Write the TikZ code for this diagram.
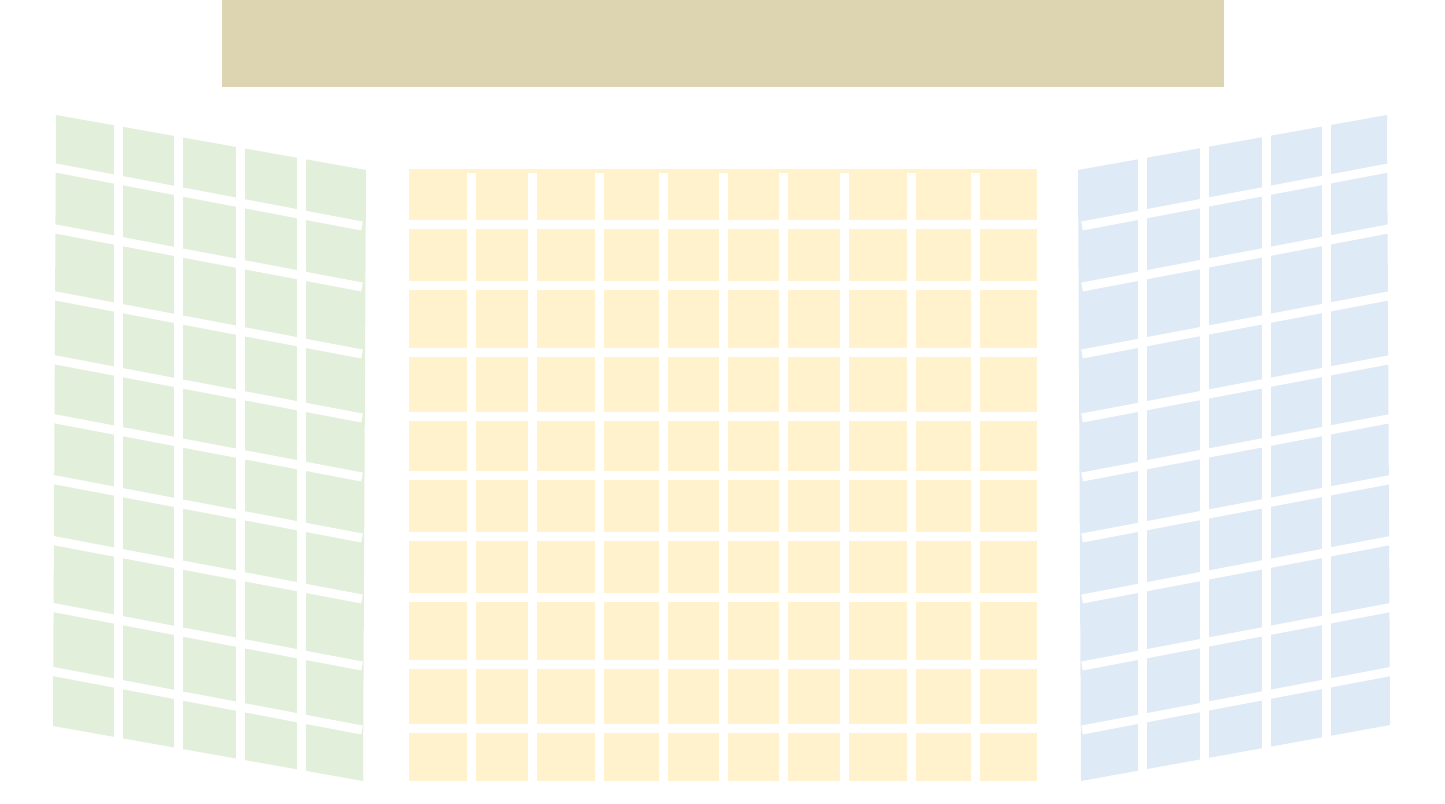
\documentclass[tikz,border=0pt]{standalone}
\usepackage{tikz}
\definecolor{stagetan}{RGB}{221,212,178}
\definecolor{seatgreen}{RGB}{226,239,218}
\definecolor{seatyellow}{RGB}{255,242,204}
\definecolor{seatblue}{RGB}{222,234,246}
\tikzset{
  aisle/.style={draw=white, line width=9pt, line cap=butt},
}
\begin{document}
\begin{tikzpicture}[x=1pt,y=-1pt]
\useasboundingbox (0,0) rectangle (1445,803);
% stage
\fill[stagetan] (222,0) rectangle (1224,87);
% middle block
\fill[seatyellow] (409,169) rectangle (1037,781);
\foreach \x in {471.5,532.5,599.5,663.5,723.5,783.5,844.5,911.5,975.5}
  \draw[aisle] (\x,173) -- (\x,786);
\foreach \y in {224.5,285.5,352.5,416.5,475.5,536.5,597.5,664.5,728.5}
  \draw[aisle] (405,\y) -- (1041,\y);
% left block
\fill[seatgreen] (56,115) -- (366,170) -- (363,781) -- (53,726) -- cycle;
\foreach \x in {118.5,178.5,240.5,301.5}
  \draw[aisle] (\x,100) -- (\x,795);
\foreach \y in {224.5,285.5,352.5,416.5,475.5,536.5,597.5,664.5,728.5}
  \draw[aisle] (40,{\y+1.5-61.0}) -- (362,{\y+1.5});
% right block
\fill[seatblue] (1078,170) -- (1387,115) -- (1390,725) -- (1081,781) -- cycle;
\foreach \x in {1142.5,1204.5,1266.5,1326.5}
  \draw[aisle] (\x,100) -- (\x,795);
\foreach \y in {224.5,285.5,352.5,416.5,475.5,536.5,597.5,664.5,728.5}
  \draw[aisle] (1082,{\y+1.5}) -- (1405,{\y+1.5-61.2});
\end{tikzpicture}
\end{document}
